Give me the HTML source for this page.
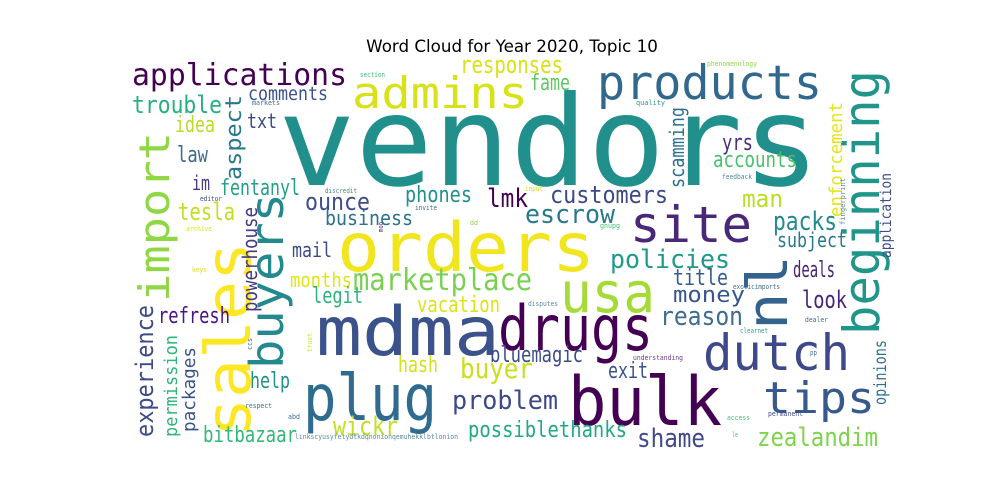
<!DOCTYPE html>
<html><head><meta charset="utf-8"><style>
html,body{margin:0;padding:0;background:#fff;}
svg{display:block;}
text{font-family:"DejaVu Sans Mono","Liberation Mono",monospace;}
text.title{font-family:"DejaVu Sans","Liberation Sans",sans-serif;}
</style></head><body>
<svg width="1000" height="500" viewBox="0 0 1000 500">
<rect x="0" y="0" width="1000" height="500" fill="#fff"/>
<text class="title" x="512" y="52" text-anchor="middle" font-size="16.7" fill="#000">Word Cloud for Year 2020, Topic 10</text>
<g>
<text x="278" y="185" font-size="125" textLength="542" lengthAdjust="spacingAndGlyphs" fill="#21908d">vendors</text>
<text x="337" y="271" font-size="68" textLength="258" lengthAdjust="spacingAndGlyphs" fill="#f1e51d">orders</text>
<text x="316" y="355" font-size="68" textLength="184" lengthAdjust="spacingAndGlyphs" fill="#3b528b">mdma</text>
<text x="498" y="350" font-size="62" textLength="155" lengthAdjust="spacingAndGlyphs" fill="#440154">drugs</text>
<text x="303" y="420" font-size="64" textLength="134" lengthAdjust="spacingAndGlyphs" fill="#2f6b8e">plug</text>
<text x="568" y="425" font-size="68" textLength="154" lengthAdjust="spacingAndGlyphs" fill="#440154">bulk</text>
<text x="597" y="99" font-size="47" textLength="225" lengthAdjust="spacingAndGlyphs" fill="#31688e">products</text>
<text x="352" y="108" font-size="44" textLength="176" lengthAdjust="spacingAndGlyphs" fill="#d8e219">admins</text>
<text x="630" y="242" font-size="50" textLength="122" lengthAdjust="spacingAndGlyphs" fill="#482878">site</text>
<text x="560" y="312" font-size="56" textLength="95" lengthAdjust="spacingAndGlyphs" fill="#a5db36">usa</text>
<text x="703" y="370" font-size="50" textLength="147" lengthAdjust="spacingAndGlyphs" fill="#3e4989">dutch</text>
<text x="763" y="413" font-size="44" textLength="112" lengthAdjust="spacingAndGlyphs" fill="#38598c">tips</text>
<text transform="translate(250,437) rotate(-90)" font-size="62" textLength="195" lengthAdjust="spacingAndGlyphs" fill="#fde725">sales</text>
<text transform="translate(169,302) rotate(-90)" font-size="42" textLength="170" lengthAdjust="spacingAndGlyphs" fill="#8fd744">import</text>
<text transform="translate(283,369) rotate(-90)" font-size="46" textLength="176" lengthAdjust="spacingAndGlyphs" fill="#23898e">buyers</text>
<text transform="translate(879,335) rotate(-90)" font-size="50" textLength="265" lengthAdjust="spacingAndGlyphs" fill="#22958b">beginning</text>
<text transform="translate(787,330) rotate(-90)" font-size="56" textLength="75" lengthAdjust="spacingAndGlyphs" fill="#33638d">nl</text>
<text x="132" y="85" font-size="30" textLength="215" lengthAdjust="spacingAndGlyphs" fill="#440154">applications</text>
<text x="132" y="113" font-size="24" textLength="90" lengthAdjust="spacingAndGlyphs" fill="#29af7f">trouble</text>
<text x="248" y="100" font-size="19" textLength="80" lengthAdjust="spacingAndGlyphs" fill="#3b528b">comments</text>
<text x="247" y="128" font-size="20" textLength="30" lengthAdjust="spacingAndGlyphs" fill="#3e4a89">txt</text>
<text x="175" y="132" font-size="22" textLength="40" lengthAdjust="spacingAndGlyphs" fill="#bade28">idea</text>
<text x="177" y="162" font-size="22" textLength="31" lengthAdjust="spacingAndGlyphs" fill="#3e6c8e">law</text>
<text x="192" y="190" font-size="20" textLength="18" lengthAdjust="spacingAndGlyphs" fill="#443983">im</text>
<text x="220" y="195" font-size="22" textLength="80" lengthAdjust="spacingAndGlyphs" fill="#25a087">fentanyl</text>
<text x="178" y="220" font-size="24" textLength="57" lengthAdjust="spacingAndGlyphs" fill="#c2df23">tesla</text>
<text x="305" y="210" font-size="24" textLength="65" lengthAdjust="spacingAndGlyphs" fill="#3e4c8a">ounce</text>
<text x="325" y="225" font-size="20" textLength="88" lengthAdjust="spacingAndGlyphs" fill="#2c718e">business</text>
<text x="405" y="202" font-size="22" textLength="67" lengthAdjust="spacingAndGlyphs" fill="#21918c">phones</text>
<text x="487" y="207" font-size="26" textLength="41" lengthAdjust="spacingAndGlyphs" fill="#440154">lmk</text>
<text x="550" y="203" font-size="24" textLength="118" lengthAdjust="spacingAndGlyphs" fill="#3e4989">customers</text>
<text x="525" y="223" font-size="26" textLength="90" lengthAdjust="spacingAndGlyphs" fill="#2a788e">escrow</text>
<text x="460" y="73" font-size="24" textLength="103" lengthAdjust="spacingAndGlyphs" fill="#d8e219">responses</text>
<text x="530" y="90" font-size="22" textLength="40" lengthAdjust="spacingAndGlyphs" fill="#5ec962">fame</text>
<text x="722" y="150" font-size="22" textLength="31" lengthAdjust="spacingAndGlyphs" fill="#472d7b">yrs</text>
<text x="713" y="167" font-size="22" textLength="84" lengthAdjust="spacingAndGlyphs" fill="#4ac16d">accounts</text>
<text x="742" y="207" font-size="24" textLength="41" lengthAdjust="spacingAndGlyphs" fill="#bade28">man</text>
<text x="773" y="230" font-size="26" textLength="64" lengthAdjust="spacingAndGlyphs" fill="#23898e">packs</text>
<text x="777" y="247" font-size="20" textLength="70" lengthAdjust="spacingAndGlyphs" fill="#2a788e">subject</text>
<text x="292" y="257" font-size="20" textLength="40" lengthAdjust="spacingAndGlyphs" fill="#3e4a89">mail</text>
<text x="290" y="287" font-size="20" textLength="62" lengthAdjust="spacingAndGlyphs" fill="#e2e418">months</text>
<text x="353" y="290" font-size="30" textLength="179" lengthAdjust="spacingAndGlyphs" fill="#7ad151">marketplace</text>
<text x="312" y="303" font-size="22" textLength="51" lengthAdjust="spacingAndGlyphs" fill="#2fb47c">legit</text>
<text x="417" y="312" font-size="22" textLength="83" lengthAdjust="spacingAndGlyphs" fill="#dde318">vacation</text>
<text x="610" y="268" font-size="26" textLength="120" lengthAdjust="spacingAndGlyphs" fill="#1f9a8a">policies</text>
<text x="673" y="285" font-size="22" textLength="55" lengthAdjust="spacingAndGlyphs" fill="#365c8d">title</text>
<text x="673" y="302" font-size="22" textLength="72" lengthAdjust="spacingAndGlyphs" fill="#39568c">money</text>
<text x="660" y="325" font-size="26" textLength="83" lengthAdjust="spacingAndGlyphs" fill="#3e6c8e">reason</text>
<text x="793" y="277" font-size="22" textLength="42" lengthAdjust="spacingAndGlyphs" fill="#482475">deals</text>
<text x="802" y="308" font-size="24" textLength="45" lengthAdjust="spacingAndGlyphs" fill="#482475">look</text>
<text x="158" y="323" font-size="22" textLength="72" lengthAdjust="spacingAndGlyphs" fill="#4a1486">refresh</text>
<text x="490" y="362" font-size="22" textLength="93" lengthAdjust="spacingAndGlyphs" fill="#3e4c8a">bluemagic</text>
<text x="398" y="372" font-size="22" textLength="40" lengthAdjust="spacingAndGlyphs" fill="#d2e21b">hash</text>
<text x="460" y="378" font-size="28" textLength="73" lengthAdjust="spacingAndGlyphs" fill="#c8e020">buyer</text>
<text x="608" y="378" font-size="22" textLength="40" lengthAdjust="spacingAndGlyphs" fill="#3b528b">exit</text>
<text x="250" y="388" font-size="22" textLength="40" lengthAdjust="spacingAndGlyphs" fill="#21918c">help</text>
<text x="452" y="409" font-size="26" textLength="106" lengthAdjust="spacingAndGlyphs" fill="#3e4989">problem</text>
<text x="333" y="435" font-size="26" textLength="65" lengthAdjust="spacingAndGlyphs" fill="#c0df25">wickr</text>
<text x="203" y="442" font-size="22" textLength="94" lengthAdjust="spacingAndGlyphs" fill="#35b779">bitbazaar</text>
<text x="468" y="437" font-size="22" textLength="159" lengthAdjust="spacingAndGlyphs" fill="#22a884">possiblethanks</text>
<text x="637" y="447" font-size="26" textLength="68" lengthAdjust="spacingAndGlyphs" fill="#3e4a89">shame</text>
<text x="757" y="446" font-size="26" textLength="121" lengthAdjust="spacingAndGlyphs" fill="#7fd34e">zealandim</text>
<text transform="translate(241,180) rotate(-90)" font-size="22" textLength="85" lengthAdjust="spacingAndGlyphs" fill="#2a788e">aspect</text>
<text transform="translate(257,312) rotate(-90)" font-size="20" textLength="105" lengthAdjust="spacingAndGlyphs" fill="#443a83">powerhouse</text>
<text transform="translate(684,188) rotate(-90)" font-size="20" textLength="81" lengthAdjust="spacingAndGlyphs" fill="#2c728e">scamming</text>
<text transform="translate(842,217) rotate(-90)" font-size="18" textLength="115" lengthAdjust="spacingAndGlyphs" fill="#e5e419">enforcement</text>
<text transform="translate(153,437) rotate(-90)" font-size="24" textLength="132" lengthAdjust="spacingAndGlyphs" fill="#3e4989">experience</text>
<text transform="translate(177,437) rotate(-90)" font-size="18" textLength="102" lengthAdjust="spacingAndGlyphs" fill="#2fb47c">permission</text>
<text transform="translate(195,432) rotate(-90)" font-size="18" textLength="85" lengthAdjust="spacingAndGlyphs" fill="#3a538b">packages</text>
<text transform="translate(886,405) rotate(-90)" font-size="17" textLength="65" lengthAdjust="spacingAndGlyphs" fill="#2d708e">opinions</text>
<text transform="translate(891,258) rotate(-90)" font-size="15" textLength="85" lengthAdjust="spacingAndGlyphs" fill="#3e4c8a">application</text>
<text transform="translate(845,225) rotate(-90)" font-size="7" textLength="47" lengthAdjust="spacingAndGlyphs" fill="#5b8aa0">fingerprint</text>
<g font-size="7">
<text x="360" y="77" textLength="25" lengthAdjust="spacingAndGlyphs" fill="#3fbc73">section</text>
<text x="252" y="105" textLength="28" lengthAdjust="spacingAndGlyphs" fill="#3e6c8e">markets</text>
<text x="707" y="66" textLength="50" lengthAdjust="spacingAndGlyphs" fill="#8fd744">phenomenology</text>
<text x="636" y="105" textLength="29" lengthAdjust="spacingAndGlyphs" fill="#2a9a8a">quality</text>
<text x="722" y="179" textLength="30" lengthAdjust="spacingAndGlyphs" fill="#4e8a9a">feedback</text>
<text x="525" y="191" textLength="18" lengthAdjust="spacingAndGlyphs" fill="#d2e21b">input</text>
<text x="600" y="228" textLength="20" lengthAdjust="spacingAndGlyphs" fill="#3fbc73">gnupg</text>
<text x="325" y="193" textLength="32" lengthAdjust="spacingAndGlyphs" fill="#4e8a8a">discredit</text>
<text x="200" y="201" textLength="22" lengthAdjust="spacingAndGlyphs" fill="#3e4c8a">editor</text>
<text x="415" y="210" textLength="22" lengthAdjust="spacingAndGlyphs" fill="#3e6c8e">invite</text>
<text x="186" y="231" textLength="26" lengthAdjust="spacingAndGlyphs" fill="#dde318">archive</text>
<text x="470" y="225" textLength="8" lengthAdjust="spacingAndGlyphs" fill="#8fd744">dd</text>
<text transform="translate(383,232) rotate(-90)" textLength="10" lengthAdjust="spacingAndGlyphs" fill="#482475">moo</text>
<text x="192" y="272" textLength="15" lengthAdjust="spacingAndGlyphs" fill="#dde318">keys</text>
<text transform="translate(252,350) rotate(-90)" textLength="12" lengthAdjust="spacingAndGlyphs" fill="#3e6c8e">ccs</text>
<text transform="translate(312,352) rotate(-90)" textLength="19" lengthAdjust="spacingAndGlyphs" fill="#c8e020">trust</text>
<text x="245" y="408" textLength="27" lengthAdjust="spacingAndGlyphs" fill="#3e6c8e">respect</text>
<text x="288" y="419" textLength="12" lengthAdjust="spacingAndGlyphs" fill="#3e6c8e">abd</text>
<text x="295" y="439" textLength="163" lengthAdjust="spacingAndGlyphs" fill="#5b8aa0">linkscyusyfetydtkdqnonionqemuhekklbtlonion</text>
<text x="733" y="289" textLength="47" lengthAdjust="spacingAndGlyphs" fill="#3e6c8e">exoticimports</text>
<text x="528" y="306" textLength="30" lengthAdjust="spacingAndGlyphs" fill="#5b8aa0">disputes</text>
<text x="805" y="322" textLength="23" lengthAdjust="spacingAndGlyphs" fill="#3e6c8e">dealer</text>
<text x="740" y="333" textLength="28" lengthAdjust="spacingAndGlyphs" fill="#2a9a8a">clearnet</text>
<text x="810" y="355" textLength="7" lengthAdjust="spacingAndGlyphs" fill="#3e6c8e">pp</text>
<text x="633" y="360" textLength="50" lengthAdjust="spacingAndGlyphs" fill="#6a3d8a">understanding</text>
<text x="727" y="420" textLength="23" lengthAdjust="spacingAndGlyphs" fill="#3fbc73">access</text>
<text x="768" y="416" textLength="35" lengthAdjust="spacingAndGlyphs" fill="#3e4c8a">permanent</text>
<text x="732" y="437" textLength="6" lengthAdjust="spacingAndGlyphs" fill="#3fbc73">le</text>
</g>
</g>
</svg>
</body></html>
